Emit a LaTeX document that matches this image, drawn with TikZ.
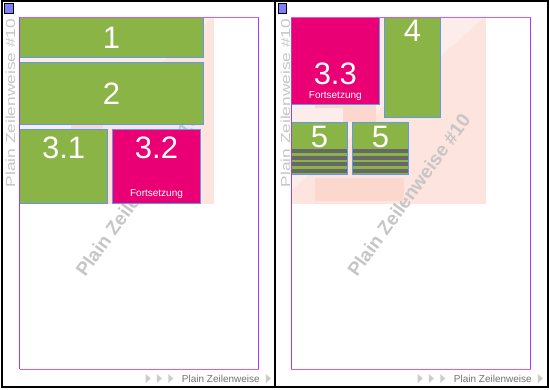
\documentclass[tikz,border=0pt]{standalone}
\usepackage{fontspec}
\setmainfont{Liberation Sans}
\definecolor{blockgreen}{HTML}{8BB446}
\definecolor{blockmagenta}{HTML}{EA0074}
\definecolor{blockedge}{HTML}{5A9AF0}
\definecolor{pagepink}{HTML}{FDE4DF}
\definecolor{lightpink}{HTML}{FDEDEA}
\definecolor{patchpink}{HTML}{FBD7CE}
\definecolor{framepurple}{HTML}{A23CF5}
\definecolor{framepink}{HTML}{D85AE8}
\definecolor{markgray}{HTML}{C6C6C6}
\definecolor{stripegray}{HTML}{686868}
\definecolor{footgray}{HTML}{707070}
\definecolor{arrowgray}{HTML}{CCCCCC}
\definecolor{handleblue}{HTML}{8080FF}
\tikzset{
  greenblock/.style={draw=blockedge, fill=blockgreen, line width=0.9pt},
  pinkblock/.style={draw=blockedge, fill=blockmagenta, line width=0.9pt},
  bignum/.style={text=white, inner sep=0pt, font=\fontsize{31}{31}\selectfont},
  contlabel/.style={text=white, inner sep=0pt, anchor=base, font=\fontsize{10}{10}\selectfont},
  watermark/.style={text=markgray, inner sep=0pt, rotate=54, font=\bfseries\fontsize{19}{19}\selectfont},
  sidelabel/.style={text=markgray, inner sep=0pt, rotate=90, font=\fontsize{13}{13}\selectfont},
  footlabel/.style={text=footgray, inner sep=0pt, anchor=base west, font=\fontsize{10}{10}\selectfont}
}
\begin{document}
\begin{tikzpicture}[x=1pt, y=-1pt]
        \useasboundingbox (0,0) rectangle (550,390);
        % Seitenrahmen und Griffe
        \foreach \ox in {0,273.5} {
          \draw[black, line width=1.4pt] (2+\ox,1) rectangle (274.5+\ox,387);
          \filldraw[fill=handleblue, draw=black, line width=0.8pt] (4.5+\ox,3.5) rectangle (13+\ox,13.5);
        }
        % Hintergrund der Seiten
        \foreach \px in {0,271.8} {
          \fill[pagepink] (19.5+\px,17.5) rectangle (214+\px,204);
          \fill[lightpink] (19.5+\px,17.5) -- (212+\px,17.5) -- (19.5+\px,190) -- cycle;
          \node[watermark] (wm\px) at (137+\px,195) {Plain Zeilenweise \#10};
        }
        \fill[patchpink] (71,124) rectangle (103,129.5);
        \fill[patchpink] (315,104) rectangle (376,108);
        \fill[patchpink] (343,108) rectangle (376,122.5);
        \fill[patchpink] (315,178) rectangle (404,201);
        % Seite 1
        \filldraw[greenblock] (19.5,17.5) rectangle (203.7,57.3);
        \node[bignum] (b1) at (111.6,38) {1};
        \filldraw[greenblock] (19.5,62.3) rectangle (203.7,124.3);
        \node[bignum] (b2) at (111.6,94) {2};
        \filldraw[greenblock] (19.5,129.3) rectangle (107.7,203.3);
        \node[bignum] (b31) at (63.6,148) {3.1};
        \filldraw[pinkblock] (112.3,129.3) rectangle (200.7,203.3);
        \node[bignum] (b32) at (156.5,148) {3.2};
        \node[contlabel] (f32) at (156.5,197) {Fortsetzung};
        % Seite 2
        \filldraw[pinkblock] (291.3,17.5) rectangle (379.3,104.3);
        \node[bignum] (b33) at (335.3,74) {3.3};
        \node[contlabel] (f33) at (335.3,98.5) {Fortsetzung};
        \filldraw[greenblock] (384.3,17.5) rectangle (440.7,117.3);
        \node[bignum] (b4) at (412.5,31) {4};
        \foreach \bx/\nm in {291.3/b5a, 352.3/b5b} {
          \filldraw[greenblock] (\bx,122.3) rectangle (\bx+56.2,174);
          \foreach \sy in {149.3,155.8,162.3,168.8}
            \fill[stripegray] (\bx+0.5,\sy) rectangle (\bx+55.7,\sy+4);
          \node[bignum] (\nm) at (\bx+28.1,137) {5};
        }
        % Satzspiegel
        \foreach \px in {0,271.8} {
          \draw[framepurple, line width=1pt] (19.5+\px,17.5) -- (19.5+\px,369.3);
          \draw[framepurple, line width=1pt] (258.7+\px,17.5) -- (258.7+\px,369.3);
          \draw[framepink, line width=1pt] (19.5+\px,17.5) -- (258.7+\px,17.5);
          \draw[framepink, line width=1pt] (19.5+\px,369.3) -- (258.7+\px,369.3);
        }
        % Randtexte
        \foreach \ox in {0,275} {
          \node[sidelabel] (side\ox) at (10.5+\ox,103) {\scalebox{1.33}[1]{Plain Zeilenweise \#10}};
        }
        \foreach \px in {0,272} {
          \foreach \tx in {145.7,156.9,168.3,265.9}
            \fill[arrowgray] (\tx+\px,374) -- (\tx+\px+5,378.5) -- (\tx+\px,383) -- cycle;
          \node[footlabel] (foot\px) at (181.7+\px,382.3) {Plain Zeilenweise};
        }
    \end{tikzpicture}
\end{document}
